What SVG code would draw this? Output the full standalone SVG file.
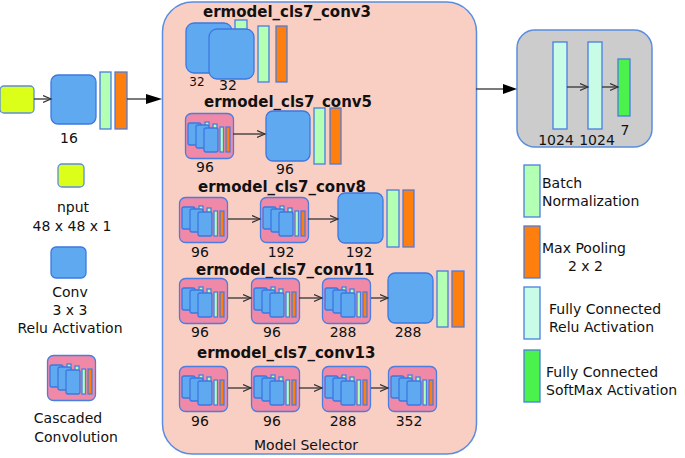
<svg xmlns="http://www.w3.org/2000/svg" xmlns:xlink="http://www.w3.org/1999/xlink" width="685" height="458" viewBox="0 0 685 458">
<style>
text{font-family:"DejaVu Sans",Verdana,sans-serif;font-size:14px;fill:#111}
.t{font-weight:bold;font-size:15px}
.m{text-anchor:middle}
.blue{fill:#5fa9f1;stroke:#3c78e0;stroke-width:1.3}
.bn{fill:#b3ffb3;stroke:#4a7de0;stroke-width:1.3}
.mp{fill:#ff7f0e;stroke:#4a7de0;stroke-width:1.3}
.fc{fill:#c8fce6;stroke:#4a7de0;stroke-width:1.3}
.sm{fill:#4cf24c;stroke:#4a7de0;stroke-width:1.3}
.yel{fill:#dcff1a;stroke:#5a8de0;stroke-width:1.3}
.cas{fill:#ef89a7;stroke:#4a7de0;stroke-width:1.3}
.ln{stroke:#333;stroke-width:1.3;fill:none}
.big{fill:#000}
</style>
<defs>
<marker id="oa" markerWidth="10" markerHeight="10" refX="8" refY="4" orient="auto" markerUnits="userSpaceOnUse">
<path d="M0,0.5 L8,4 L0,7.5" fill="none" stroke="#333" stroke-width="1.2"/>
</marker>
<g id="icon">
<rect class="cas" x="0.5" y="0.5" width="48" height="45" rx="6"/>
<rect class="blue" x="3" y="10" width="13" height="22" rx="2" stroke-width="1"/>
<rect class="bn" x="20" y="9" width="4" height="5" stroke-width="0.8"/>
<rect class="blue" x="11" y="12" width="13" height="23" rx="2" stroke-width="1"/>
<rect class="bn" x="28" y="11" width="4" height="5" stroke-width="0.8"/>
<rect class="blue" x="19" y="15" width="14" height="24" rx="2" stroke-width="1"/>
<rect class="bn" x="35" y="14" width="3.5" height="25" stroke-width="0.8"/>
<rect class="mp" x="41" y="14" width="4" height="25" stroke-width="0.8"/>
</g>
</defs>

<g id="model-selector">
<rect x="162.5" y="2" width="314" height="452" rx="30" fill="#f9cfc4" stroke="#5a8de0" stroke-width="1.5"/>
<text class="m" x="306" y="450">Model Selector</text>
</g>

<g id="fc-panel">
<rect x="517" y="30" width="135" height="117" rx="18" fill="#cccccc" stroke="#5a8de0" stroke-width="1.5"/>
<rect class="fc" x="553" y="42" width="14" height="87"/>
<rect class="fc" x="588" y="42" width="14" height="87"/>
<rect class="sm" x="618" y="59" width="12" height="57"/>
<text class="m" x="556" y="145">1024</text>
<text class="m" x="597" y="145">1024</text>
<text class="m" x="625" y="135">7</text>
</g>

<g id="input-stage">
<rect class="yel" x="0" y="86" width="34" height="27" rx="4"/>
<rect class="blue" x="51" y="75" width="45" height="49" rx="7"/>
<rect class="bn" x="100" y="72" width="11" height="57"/>
<rect class="mp" x="115" y="72" width="12" height="57"/>
<text class="m" x="69" y="143">16</text>
</g>

<g id="conv3">
<text class="t" x="203" y="17">ermodel_cls7_conv3</text>
<rect class="blue" x="186" y="23" width="46" height="50" rx="8"/>
<rect class="bn" x="235" y="20" width="12" height="10"/>
<rect class="blue" x="209" y="29" width="45" height="50" rx="8"/>
<rect class="bn" x="258" y="26" width="11" height="56"/>
<rect class="mp" x="276" y="26" width="11" height="56"/>
<text class="m" x="197" y="86" style="font-size:12px">32</text>
<text class="m" x="228" y="90">32</text>
</g>

<g id="conv5">
<text class="t" x="204" y="107">ermodel_cls7_conv5</text>
<use xlink:href="#icon" x="185" y="113"/>
<rect class="blue" x="266" y="111" width="44" height="50" rx="7"/>
<rect class="bn" x="314" y="108" width="11" height="56"/>
<rect class="mp" x="330" y="108" width="11" height="56"/>
<text class="m" x="205" y="172">96</text>
<text class="m" x="285" y="174">96</text>
</g>

<g id="conv8">
<text class="t" x="198" y="192">ermodel_cls7_conv8</text>
<use xlink:href="#icon" x="179" y="197"/>
<use xlink:href="#icon" x="260" y="197"/>
<rect class="blue" x="338" y="193" width="45" height="50" rx="7"/>
<rect class="bn" x="387" y="190" width="12" height="57"/>
<rect class="mp" x="403" y="190" width="11" height="57"/>
<text class="m" x="200" y="257">96</text>
<text class="m" x="281" y="257">192</text>
<text class="m" x="359" y="257">192</text>
</g>

<g id="conv11">
<text class="t" x="196" y="275">ermodel_cls7_conv11</text>
<use xlink:href="#icon" x="179" y="278"/>
<use xlink:href="#icon" x="251" y="278"/>
<use xlink:href="#icon" x="322" y="278"/>
<rect class="blue" x="388" y="273" width="45" height="50" rx="7"/>
<rect class="bn" x="437" y="271" width="11" height="56"/>
<rect class="mp" x="452" y="271" width="12" height="56"/>
<text class="m" x="200" y="337">96</text>
<text class="m" x="272" y="337">96</text>
<text class="m" x="343" y="337">288</text>
<text class="m" x="408" y="337">288</text>
</g>

<g id="conv13">
<text class="t" x="197" y="358">ermodel_cls7_conv13</text>
<use xlink:href="#icon" x="179" y="366"/>
<use xlink:href="#icon" x="251" y="366"/>
<use xlink:href="#icon" x="322" y="366"/>
<use xlink:href="#icon" x="388" y="366"/>
<text class="m" x="200" y="426">96</text>
<text class="m" x="272" y="426">96</text>
<text class="m" x="343" y="426">288</text>
<text class="m" x="409" y="426">352</text>
</g>

<g id="legend-left">
<rect class="yel" x="58" y="164" width="26" height="23" rx="4"/>
<text class="m" x="73" y="212">nput</text>
<text class="m" x="72" y="231">48 x 48 x 1</text>
<rect class="blue" x="51" y="247" width="35" height="31" rx="5"/>
<text class="m" x="70" y="297">Conv</text>
<text class="m" x="70" y="315">3 x 3</text>
<text class="m" x="70" y="333">Relu Activation</text>
<use xlink:href="#icon" x="47" y="355"/>
<text class="m" x="68" y="423">Cascaded</text>
<text class="m" x="76" y="442">Convolution</text>
</g>

<g id="legend-right">
<rect class="bn" x="524" y="165" width="16" height="52"/>
<text x="542" y="188">Batch</text>
<text x="542" y="206">Normalization</text>
<rect class="mp" x="524" y="226" width="16" height="52"/>
<text x="542" y="253">Max Pooling</text>
<text x="568" y="271">2 x 2</text>
<rect class="fc" x="524" y="287" width="16" height="52"/>
<text x="549" y="314">Fully Connected</text>
<text x="549" y="332">Relu Activation</text>
<rect class="sm" x="524" y="350" width="16" height="52"/>
<text x="546" y="377">Fully Connected</text>
<text x="546" y="395">SoftMax Activation</text>
</g>

<g id="connectors">
<line class="ln" x1="34" y1="99" x2="51" y2="99" marker-end="url(#oa)"/>
<line class="ln" x1="127" y1="99" x2="148" y2="99"/>
<polygon class="big" points="146,94 162,99 146,104"/>
<line class="ln" x1="476" y1="89" x2="505" y2="89"/>
<polygon class="big" points="503,84 517,89 503,94"/>
<line class="ln" x1="567" y1="87" x2="588" y2="87" marker-end="url(#oa)"/>
<line class="ln" x1="602" y1="87" x2="618" y2="87" marker-end="url(#oa)"/>
<line class="ln" x1="233" y1="134" x2="265" y2="134" marker-end="url(#oa)"/>
<line class="ln" x1="228" y1="219" x2="260" y2="219" marker-end="url(#oa)"/>
<line class="ln" x1="308" y1="219" x2="338" y2="219" marker-end="url(#oa)"/>
<line class="ln" x1="228" y1="298" x2="251" y2="298" marker-end="url(#oa)"/>
<line class="ln" x1="299" y1="298" x2="322" y2="298" marker-end="url(#oa)"/>
<line class="ln" x1="371" y1="298" x2="388" y2="298" marker-end="url(#oa)"/>
<line class="ln" x1="228" y1="388" x2="251" y2="388" marker-end="url(#oa)"/>
<line class="ln" x1="299" y1="388" x2="322" y2="388" marker-end="url(#oa)"/>
<line class="ln" x1="371" y1="388" x2="388" y2="388" marker-end="url(#oa)"/>
</g>
</svg>
